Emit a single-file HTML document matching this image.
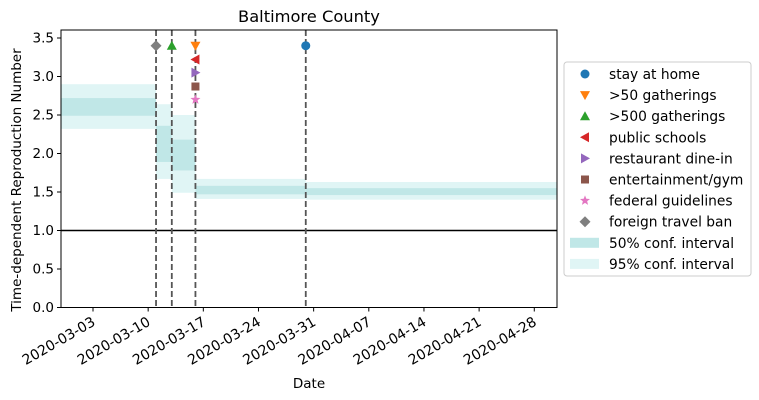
<!DOCTYPE html>
<html><head><meta charset="utf-8"><style>
body{margin:0;background:#fff}
svg{display:block;font-family:"DejaVu Sans","Liberation Sans",sans-serif}
</style></head><body>
<svg id="c" width="759" height="400" viewBox="0 0 759 400"></svg>
<script>
const segStarts=["2020-02-27","2020-03-11","2020-03-13","2020-03-16","2020-03-30"];
const segEnds=["2020-03-11","2020-03-13","2020-03-16","2020-03-30","2020-05-01"];
const ci50Lo=[2.49,1.89,1.78,1.47,1.46];
const ci50Hi=[2.72,2.36,2.18,1.58,1.55];
const ci95Lo=[2.32,1.67,1.49,1.41,1.40];
const ci95Hi=[2.90,2.64,2.50,1.67,1.63];
const evtNames=["stay at home",">50 gatherings",">500 gatherings","public schools","restaurant dine-in","entertainment/gym","federal guidelines","foreign travel ban"];
const evtDates=["2020-03-30","2020-03-16","2020-03-13","2020-03-16","2020-03-16","2020-03-16","2020-03-16","2020-03-11"];
const evtY=[3.4,3.4,3.4,3.22,3.05,2.87,2.7,3.4];
const evtColors=["#1f77b4","#ff7f0e","#2ca02c","#d62728","#9467bd","#8c564b","#e377c2","#7f7f7f"];
const evtShapes=["circle","down","up","left","right","square","star","diamond"];
const vlineDates=["2020-03-11","2020-03-13","2020-03-16","2020-03-30"];
const xTicks=["2020-03-03","2020-03-10","2020-03-17","2020-03-24","2020-03-31","2020-04-07","2020-04-14","2020-04-21","2020-04-28"];
const yTicks=[0,0.5,1,1.5,2,2.5,3,3.5];

const L=61,R=557,T=30,B=307.5;
const day=d=>(Date.parse(d)-Date.parse("2020-03-03"))/864e5;
const X=d=>{const v=93+day(d)*7.88;return Math.max(L,Math.min(R,v));};
const Y=v=>B-v*77;
const svg=document.getElementById('c');
const NS="http://www.w3.org/2000/svg";
function el(t,a,p){const e=document.createElementNS(NS,t);for(const k in a)e.setAttribute(k,a[k]);(p||svg).appendChild(e);return e;}
const plot=el('g',{});


for(let i=0;i<segStarts.length;i++){
 const x1=X(segStarts[i]),x2=X(segEnds[i]);
 const r=el('rect',{x:x1,y:Y(ci95Hi[i]),width:x2-x1,height:Y(ci95Lo[i])-Y(ci95Hi[i]),fill:'#e0f5f5'},plot);
 
 
 const r2=el('rect',{x:x1,y:Y(ci50Hi[i]),width:x2-x1,height:Y(ci50Lo[i])-Y(ci50Hi[i]),fill:'#c0e7e7'},plot);
 
 
}
const ref=el('line',{x1:L,x2:R,y1:Y(1),y2:Y(1),stroke:'#000','stroke-width':1.5},plot);


vlineDates.forEach(d=>{const l=el('line',{x1:X(d),x2:X(d),y1:T,y2:B,stroke:'#555','stroke-width':1.8,'stroke-dasharray':'6,3'},plot);
 
 });
function marker(shape,x,y,c,s,p){
 let e;
 if(shape=='circle')e=el('circle',{cx:x,cy:y,r:s*0.9,fill:c},p);
 else if(shape=='square')e=el('rect',{x:x-s*0.8,y:y-s*0.8,width:s*1.6,height:s*1.6,fill:c},p);
 else{let pts;
  if(shape=='down')pts=[[-s,-s*0.8],[s,-s*0.8],[0,s]];
  if(shape=='up')pts=[[-s,s*0.8],[s,s*0.8],[0,-s]];
  if(shape=='left')pts=[[s*0.8,-s],[s*0.8,s],[-s,0]];
  if(shape=='right')pts=[[-s*0.8,-s],[-s*0.8,s],[s,0]];
  if(shape=='diamond')pts=[[0,-s*1.1],[s*1.1,0],[0,s*1.1],[-s*1.1,0]];
  if(shape=='star'){pts=[];for(let k=0;k<10;k++){const a=-Math.PI/2+k*Math.PI/5,rr=k%2?s*0.45:s*1.05;pts.push([rr*Math.cos(a),rr*Math.sin(a)]);}}
  e=el('polygon',{points:pts.map(q=>(x+q[0])+','+(y+q[1])).join(' '),fill:c},p);}
 return e;
}
for(let i=0;i<evtNames.length;i++){
 const m=marker(evtShapes[i],X(evtDates[i]),Y(evtY[i]),evtColors[i],5,plot);
 
 
}
const frame=el('rect',{x:L,y:T,width:R-L,height:B-T,fill:'none',stroke:'#000','stroke-width':1});


yTicks.forEach(v=>{el('line',{x1:L-4,x2:L,y1:Y(v),y2:Y(v),stroke:'#000'});
 const t=el('text',{x:L-7,y:Y(v)+4.5,'text-anchor':'end','font-size':13.5});t.textContent=v.toFixed(1);
 
 });
xTicks.forEach(d=>{const x=X(d)-2,y=B+8;el('line',{x1:X(d),x2:X(d),y1:B,y2:B+4,stroke:'#000'});
 const t=el('text',{x:x,y:y,'text-anchor':'end','font-size':14,transform:`rotate(-30 ${x} ${y})`,dy:'0.75em'});t.textContent=d;
 
 });
let t=el('text',{x:309,y:22,'text-anchor':'middle','font-size':16.3});t.textContent='Baltimore County';


t=el('text',{x:309,y:388,'text-anchor':'middle','font-size':13.5});t.textContent='Date';


t=el('text',{x:0,y:0,'text-anchor':'middle','font-size':13.5,transform:'translate(21 180) rotate(-90)'});t.textContent='Time-dependent Reproduction Number';


const lg=el('g',{});


el('rect',{x:564,y:62,width:187,height:214,rx:3,fill:'#fff',stroke:'#ccc'},lg);
const labels=evtNames.concat(["50% conf. interval","95% conf. interval"]);
labels.forEach((n,i)=>{const y=74+i*21.1;
 let m;
 if(i<8)m=marker(evtShapes[i],585,y,evtColors[i],5,lg);
 else m=el('rect',{x:570,y:y-5,width:29,height:10,fill:i==8?'#c0e7e7':'#e0f5f5'},lg);
 
 
 const tx=el('text',{x:609,y:y+5,'font-size':13.8},lg);tx.textContent=n;
 
 
});
</script>
</body></html>
